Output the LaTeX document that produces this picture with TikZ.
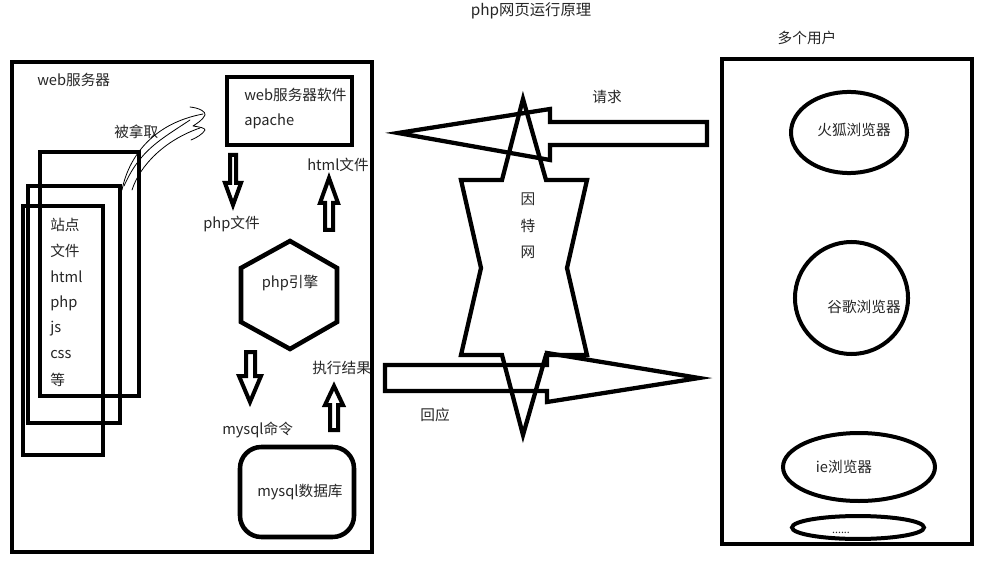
\documentclass[tikz,border=0pt]{standalone}
\usepackage{fontspec}
\setmainfont{Noto Sans CJK SC}
\begin{document}
\begin{tikzpicture}[x=0.75pt,y=-0.75pt,
  thick box/.style={draw=black,line width=3.4pt,line join=miter},
  oval/.style={draw=black,line width=3pt},
  lbl/.style={inner sep=0pt,font=\fontsize{11pt}{13pt}\selectfont,text=black!85},
  lbll/.style={lbl,anchor=west},
  thin stroke/.style={draw=black,line width=0.6pt,line cap=round,line join=round}]
\useasboundingbox (0,0) rectangle (988,570);
\fill[white] (0,0) rectangle (988,570);

% title
\node[lbl,font=\fontsize{11.5pt}{13pt}\selectfont] (title) at (531,11) {php网页运行原理};

% web server
\draw[thick box] (12,62) rectangle (372,552);
\node[lbll] (websrv) at (37,80) {web服务器};

% stacked file boxes
\draw[thick box] (40,152) rectangle (139,396);
\draw[thick box] (28,186) rectangle (120,423);
\draw[thick box] (23,206) rectangle (103,455);
\node[lbll] (f1) at (50,225) {站点};
\node[lbll] (f2) at (50,251) {文件};
\node[lbll] (f3) at (50,277) {html};
\node[lbll] (f4) at (50,303) {php};
\node[lbll] (f5) at (50,329) {js};
\node[lbll] (f6) at (50,355) {css};
\node[lbll] (f7) at (50,380) {等};

% taken arrow
\node[lbll] (taken) at (114,132) {被拿取};
\draw[thin stroke] (122,190) .. controls (128,160) and (150,124) .. (203,114);
\draw[thin stroke] (132,190) .. controls (140,165) and (165,140) .. (200,128);
\draw[thin stroke] (124,186) .. controls (140,150) and (160,140) .. (190,120);
\draw[thin stroke] (190,107) .. controls (200,108) and (206,112) .. (205,115)
  .. controls (203,120) and (196,124) .. (193,126)
  .. controls (200,127) and (205,128) .. (205,130)
  .. controls (203,134) and (196,138) .. (191,140);

% apache
\draw[thick box] (227,77) rectangle (352,145);
\node[lbll] (apache1) at (244,95) {web服务器软件};
\node[lbll] (apache2) at (244,121) {apache};

% arrows inside server
\draw[thick box,line width=3pt] (230,155) -- (236,155) -- (236,183) -- (241,183) -- (233,205) -- (225,183) -- (230,183) -- cycle;
\node[lbll] (phpfile) at (203,224) {php文件};
\draw[thick box,line width=3pt] (329,178) -- (338,203) -- (333,203) -- (333,230) -- (325,230) -- (325,203) -- (320,203) -- cycle;
\node[lbll] (htmlfile) at (307,165) {html文件};

% php engine
\draw[thick box] (290,241) -- (337,268) -- (337,322) -- (290,349) -- (241,322) -- (241,268) -- cycle;
\node[lbl] (engine) at (290,283) {php引擎};

\draw[thick box,line width=3pt] (246,352) -- (255,352) -- (255,376) -- (261,376) -- (250,402) -- (239,376) -- (246,376) -- cycle;
\node[lbll] (mysqlcmd) at (222,430) {mysql命令};
\draw[thick box,line width=3pt] (334,386) -- (343,405) -- (338,405) -- (338,430) -- (330,430) -- (330,405) -- (325,405) -- cycle;
\node[lbll] (result) at (312,368) {执行结果};

% mysql db
\draw[thick box,rounded corners=16pt] (240,447) rectangle (354,537);
\node[lbll] (db) at (257,492) {mysql数据库};

% internet star
\draw[thick box,line width=3.2pt] (523,99) -- (546,180) -- (587,180) -- (567,268) -- (587,355) -- (546,355) -- (523,435) -- (502,355) -- (461,355) -- (481,268) -- (461,180) -- (502,180) -- cycle;
\node[lbl] (n1) at (528,199) {因};
\node[lbl] (n2) at (528,226) {特};
\node[lbl] (n3) at (528,252) {网};

% request arrow
\draw[thick box,line width=3.2pt] (398,133) -- (550,109) -- (550,122) -- (707,122) -- (707,145) -- (550,145) -- (550,160) -- cycle;
\node[lbl] (req) at (607,97) {请求};

% response arrow
\draw[thick box,line width=3.2pt] (385,365) -- (547,365) -- (547,353) -- (699,378) -- (547,402) -- (547,391) -- (385,391) -- cycle;
\node[lbl] (resp) at (435,415) {回应};

% users
\node[lbl] (users) at (807,38) {多个用户};
\draw[thick box] (722,59) rectangle (972,544);
\draw[oval] (849,132.5) ellipse [x radius=43.5pt, y radius=30.4pt];
\node[lbl] (ff) at (854,130) {火狐浏览器};
\draw[oval] (851.5,298) ellipse [x radius=42.4pt, y radius=42pt];
\node[lbl] (gc) at (864,307) {谷歌浏览器};
\draw[oval] (859,467) ellipse [x radius=57pt, y radius=25.5pt];
\node[lbl] (ie) at (844,467) {ie浏览器};
\draw[oval] (858,527.5) ellipse [x radius=49.5pt, y radius=8.6pt];
\node[lbl,font=\fontsize{8pt}{9pt}\selectfont] (more) at (841,533) {......};
\end{tikzpicture}
\end{document}
